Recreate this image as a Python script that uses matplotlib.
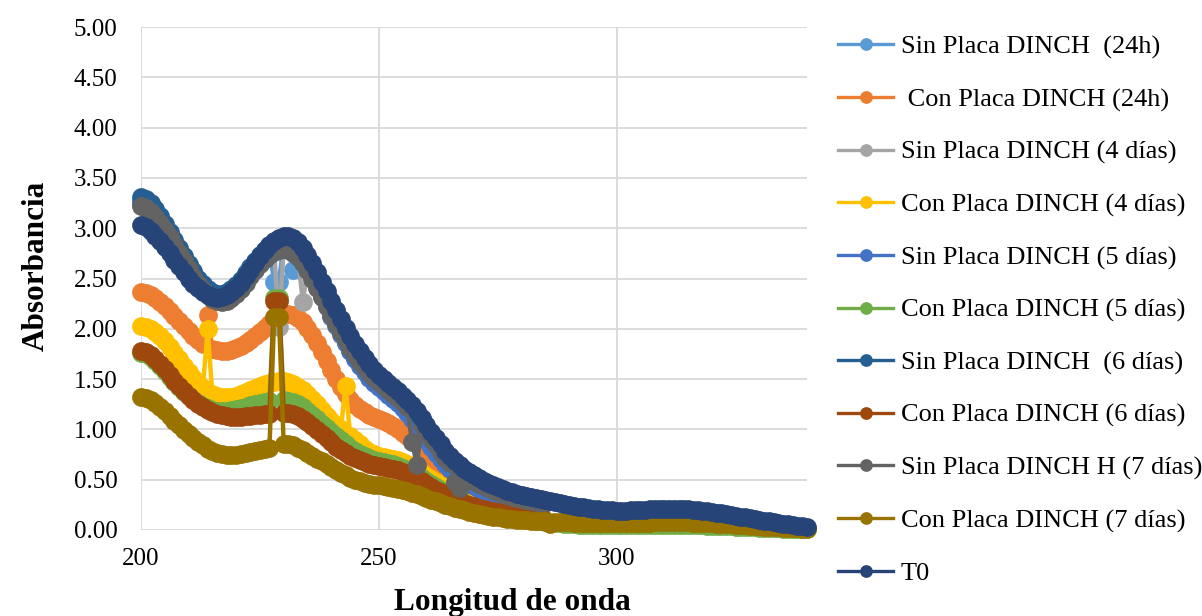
import matplotlib
matplotlib.use("Agg")
import matplotlib.pyplot as plt
import numpy as np

plt.rcParams['font.family'] = ['Liberation Serif', 'DejaVu Serif']

# Wavelength grid (nm)
wl_full = np.arange(200, 341)   # 200..340
wl_short = np.arange(200, 285)  # 200..284

sin_24h = [3.27, 3.25, 3.21, 3.15, 3.08, 3.00, 2.92, 2.84, 2.76, 2.68,
           2.60, 2.53, 2.47, 2.41, 2.37, 2.34, 2.32, 2.32, 2.33, 2.36,
           2.40, 2.45, 2.51, 2.57, 2.63, 2.69, 2.74, 2.78, 2.47, 2.47,
           2.84, 2.83, 2.58, 2.75, 2.69, 2.61, 2.53, 2.44, 2.34, 2.24,
           2.14, 2.05, 1.96, 1.87, 1.79, 1.71, 1.64, 1.58, 1.52, 1.47,
           1.43, 1.39, 1.35, 1.31, 1.27, 1.22, 1.17, 1.11, 1.04, 0.97,
           0.90, 0.84, 0.78, 0.72, 0.67, 0.62, 0.58, 0.54, 0.51, 0.48,
           0.45, 0.42, 0.40, 0.38, 0.36, 0.34, 0.33, 0.31, 0.30, 0.29,
           0.28, 0.27, 0.26, 0.25, 0.24]

con_24h = [2.37, 2.36, 2.34, 2.31, 2.27, 2.23, 2.18, 2.13, 2.08, 2.03,
           1.98, 1.93, 1.89, 1.85, 2.14, 1.80, 1.79, 1.78, 1.78, 1.79,
           1.81, 1.83, 1.86, 1.89, 1.93, 1.97, 2.01, 2.05, 2.09, 2.12,
           2.14, 2.15, 2.14, 2.11, 2.07, 2.01, 1.94, 1.86, 1.77, 1.68,
           1.59, 1.50, 1.42, 1.35, 1.29, 1.24, 1.20, 1.17, 1.14, 1.12,
           1.10, 1.08, 1.06, 1.03, 1.00, 0.96, 0.93, 0.89, 0.85, 0.81,
           0.77, 0.72, 0.67, 0.62, 0.58, 0.54, 0.50, 0.46, 0.42, 0.39,
           0.36, 0.33, 0.31, 0.29, 0.27, 0.25, 0.24, 0.22, 0.21, 0.20,
           0.19, 0.18, 0.17, 0.17, 0.16]

sin_4d = [3.24, 3.22, 3.19, 3.14, 3.08, 3.01, 2.93, 2.85, 2.77, 2.69,
          2.61, 2.54, 2.47, 2.41, 2.36, 2.32, 2.30, 2.29, 2.30, 2.33,
          2.37, 2.42, 2.48, 2.54, 2.60, 2.66, 2.71, 2.75, 2.78, 2.02,
          2.81, 2.80, 2.77, 2.72, 2.27, 2.59, 2.51, 2.42, 2.32, 2.22,
          2.12, 2.03, 1.94, 1.86, 1.78, 1.71, 1.64, 1.58, 1.53, 1.48,
          1.44, 1.40, 1.36, 1.32, 1.28, 1.24, 1.19, 1.13, 1.06, 0.99,
          0.92, 0.86, 0.80, 0.74, 0.69, 0.64, 0.59, 0.55, 0.52, 0.49,
          0.46, 0.43, 0.41, 0.39, 0.37, 0.35, 0.33, 0.32, 0.31, 0.29,
          0.28, 0.27, 0.26, 0.25, 0.24]

con_4d = [2.03, 2.02, 2.00, 1.97, 1.93, 1.88, 1.82, 1.76, 1.70, 1.63,
          1.57, 1.51, 1.46, 1.41, 2.00, 1.35, 1.33, 1.32, 1.32, 1.32,
          1.33, 1.35, 1.37, 1.39, 1.41, 1.43, 1.45, 1.46, 1.47, 1.48,
          1.48, 1.47, 1.45, 1.42, 1.39, 1.35, 1.30, 1.25, 1.19, 1.13,
          1.08, 1.04, 1.00, 1.43, 0.93, 0.89, 0.85, 0.81, 0.78, 0.76,
          0.74, 0.73, 0.72, 0.71, 0.70, 0.68, 0.66, 0.63, 0.60, 0.57,
          0.54, 0.51, 0.48, 0.45, 0.42, 0.40, 0.37, 0.35, 0.33, 0.31,
          0.29, 0.27, 0.26, 0.24, 0.23, 0.22, 0.21, 0.20, 0.19, 0.18,
          0.17, 0.17, 0.16, 0.15, 0.15]

sin_5d = [3.25, 3.23, 3.19, 3.13, 3.06, 2.99, 2.91, 2.83, 2.75, 2.67,
          2.59, 2.52, 2.46, 2.40, 2.36, 2.33, 2.31, 2.31, 2.32, 2.35,
          2.39, 2.44, 2.50, 2.56, 2.62, 2.68, 2.73, 2.77, 2.80, 2.82,
          2.83, 2.82, 2.79, 2.74, 2.68, 2.60, 2.52, 2.43, 2.33, 2.23,
          2.13, 2.04, 1.95, 1.86, 1.78, 1.70, 1.63, 1.57, 1.51, 1.46,
          1.42, 1.38, 1.34, 1.30, 1.26, 1.21, 1.16, 1.10, 1.03, 0.96,
          0.89, 0.83, 0.77, 0.71, 0.66, 0.61, 0.57, 0.53, 0.50, 0.47,
          0.44, 0.41, 0.39, 0.37, 0.35, 0.33, 0.32, 0.30, 0.29, 0.28,
          0.27, 0.26, 0.25, 0.24, 0.23]

con_5d = [1.76, 1.75, 1.72, 1.68, 1.63, 1.58, 1.52, 1.47, 1.42, 1.37,
          1.33, 1.29, 1.26, 1.23, 1.21, 1.19, 1.18, 1.18, 1.18, 1.19,
          1.20, 1.21, 1.22, 1.24, 1.25, 1.26, 1.27, 1.28, 2.31, 2.31,
          1.29, 1.28, 1.27, 1.25, 1.22, 1.18, 1.14, 1.10, 1.05, 1.01,
          0.97, 0.93, 0.89, 0.85, 0.82, 0.79, 0.76, 0.74, 0.72, 0.70,
          0.69, 0.68, 0.67, 0.66, 0.64, 0.62, 0.60, 0.58, 0.55, 0.52,
          0.49, 0.46, 0.43, 0.40, 0.37, 0.34, 0.32, 0.29, 0.27, 0.25,
          0.23, 0.21, 0.20, 0.18, 0.17, 0.16, 0.15, 0.14, 0.13, 0.12,
          0.11, 0.10, 0.10, 0.09, 0.09, 0.08, 0.08, 0.07, 0.07, 0.06,
          0.06, 0.06, 0.05, 0.05, 0.05, 0.05, 0.05, 0.05, 0.05, 0.05,
          0.05, 0.05, 0.05, 0.05, 0.05, 0.05, 0.05, 0.05, 0.05, 0.05,
          0.05, 0.05, 0.05, 0.05, 0.05, 0.05, 0.05, 0.05, 0.05, 0.04,
          0.04, 0.04, 0.04, 0.04, 0.04, 0.03, 0.03, 0.03, 0.03, 0.03,
          0.02, 0.02, 0.02, 0.02, 0.02, 0.01, 0.01, 0.01, 0.01, 0.01,
          0.01]

sin_6d = [3.31, 3.29, 3.25, 3.19, 3.12, 3.04, 2.96, 2.88, 2.80, 2.72,
          2.64, 2.57, 2.50, 2.45, 2.40, 2.37, 2.35, 2.35, 2.37, 2.40,
          2.44, 2.49, 2.55, 2.61, 2.67, 2.73, 2.78, 2.82, 2.86, 2.88,
          2.89, 2.89, 2.87, 2.83, 2.77, 2.70, 2.62, 2.53, 2.44, 2.34,
          2.25, 2.16, 2.07, 1.98, 1.90, 1.82, 1.75, 1.68, 1.62, 1.57,
          1.52, 1.48, 1.44, 1.40, 1.36, 1.31, 1.27, 1.21, 1.15, 1.08,
          1.01, 0.94, 0.88, 0.82, 0.76, 0.71, 0.66, 0.62, 0.58, 0.55,
          0.52, 0.49, 0.46, 0.44, 0.42, 0.40, 0.38, 0.37, 0.35, 0.34,
          0.33, 0.32, 0.31, 0.30, 0.29]

con_6d = [1.78, 1.77, 1.74, 1.70, 1.65, 1.60, 1.54, 1.48, 1.43, 1.38,
          1.33, 1.29, 1.25, 1.22, 1.19, 1.17, 1.15, 1.14, 1.13, 1.12,
          1.12, 1.12, 1.13, 1.13, 1.14, 1.14, 1.15, 1.15, 2.28, 2.28,
          1.16, 1.16, 1.15, 1.13, 1.10, 1.07, 1.03, 0.99, 0.95, 0.91,
          0.87, 0.83, 0.80, 0.77, 0.74, 0.72, 0.70, 0.68, 0.66, 0.65,
          0.64, 0.63, 0.62, 0.61, 0.60, 0.58, 0.56, 0.54, 0.52, 0.49,
          0.46, 0.43, 0.40, 0.38, 0.35, 0.33, 0.31, 0.29, 0.27, 0.25,
          0.24, 0.22, 0.21, 0.20, 0.19, 0.18, 0.17, 0.16, 0.16, 0.15,
          0.15, 0.14, 0.14, 0.13, 0.13]

sin_7d = [3.22, 3.20, 3.16, 3.11, 3.05, 2.98, 2.91, 2.83, 2.75, 2.67,
          2.59, 2.51, 2.45, 2.39, 2.34, 2.30, 2.28, 2.27, 2.28, 2.31,
          2.35, 2.40, 2.46, 2.52, 2.58, 2.64, 2.69, 2.73, 2.76, 2.78,
          2.79, 2.78, 2.75, 2.71, 2.65, 2.58, 2.50, 2.41, 2.32, 2.23,
          2.14, 2.05, 1.97, 1.89, 1.81, 1.74, 1.67, 1.61, 1.56, 1.51,
          1.47, 1.43, 1.39, 1.35, 1.31, 1.27, 1.22, 0.87, 0.65, 1.04,
          0.97, 0.90, 0.84, 0.78, 0.72, 0.67, 0.48, 0.42, 0.55, 0.52,
          0.49, 0.46, 0.44, 0.42, 0.40, 0.38, 0.36, 0.35, 0.33, 0.32,
          0.31, 0.30, 0.29, 0.28, 0.27]

con_7d = [1.32, 1.31, 1.29, 1.26, 1.22, 1.18, 1.13, 1.08, 1.04, 0.99,
          0.95, 0.91, 0.87, 0.84, 0.81, 0.79, 0.77, 0.76, 0.75, 0.75,
          0.75, 0.76, 0.77, 0.78, 0.79, 0.80, 0.81, 0.82, 2.12, 2.12,
          0.85, 0.85, 0.84, 0.82, 0.80, 0.77, 0.74, 0.71, 0.69, 0.66,
          0.63, 0.60, 0.57, 0.55, 0.52, 0.50, 0.49, 0.47, 0.46, 0.45,
          0.45, 0.44, 0.43, 0.42, 0.41, 0.40, 0.39, 0.37, 0.36, 0.34,
          0.32, 0.30, 0.29, 0.27, 0.25, 0.24, 0.22, 0.21, 0.20, 0.18,
          0.17, 0.16, 0.15, 0.14, 0.13, 0.13, 0.12, 0.11, 0.11, 0.10,
          0.10, 0.10, 0.09, 0.09, 0.09, 0.09, 0.06, 0.08, 0.08, 0.08,
          0.08, 0.07, 0.07, 0.07, 0.07, 0.07, 0.07, 0.07, 0.07, 0.07,
          0.07, 0.07, 0.07, 0.07, 0.07, 0.07, 0.07, 0.07, 0.08, 0.08,
          0.08, 0.08, 0.08, 0.08, 0.08, 0.08, 0.07, 0.07, 0.07, 0.07,
          0.07, 0.06, 0.06, 0.06, 0.06, 0.05, 0.05, 0.05, 0.04, 0.04,
          0.04, 0.03, 0.03, 0.03, 0.03, 0.02, 0.02, 0.02, 0.02, 0.01,
          0.01]

t0 = [3.03, 3.01, 2.97, 2.92, 2.87, 2.81, 2.75, 2.68, 2.62, 2.56,
      2.50, 2.45, 2.41, 2.37, 2.34, 2.32, 2.31, 2.32, 2.34, 2.37,
      2.41, 2.46, 2.52, 2.58, 2.65, 2.72, 2.78, 2.83, 2.87, 2.90,
      2.92, 2.92, 2.90, 2.86, 2.80, 2.73, 2.65, 2.56, 2.47, 2.38,
      2.28, 2.19, 2.10, 2.01, 1.93, 1.85, 1.78, 1.71, 1.65, 1.59,
      1.54, 1.50, 1.46, 1.42, 1.38, 1.33, 1.29, 1.24, 1.18, 1.11,
      1.04, 0.97, 0.91, 0.85, 0.79, 0.74, 0.69, 0.65, 0.61, 0.58,
      0.55, 0.52, 0.49, 0.47, 0.45, 0.43, 0.41, 0.39, 0.38, 0.36,
      0.35, 0.34, 0.33, 0.32, 0.31, 0.30, 0.29, 0.28, 0.27, 0.26,
      0.25, 0.24, 0.23, 0.23, 0.22, 0.21, 0.21, 0.20, 0.20, 0.20,
      0.19, 0.19, 0.19, 0.20, 0.20, 0.20, 0.20, 0.21, 0.21, 0.21,
      0.21, 0.21, 0.21, 0.21, 0.21, 0.21, 0.20, 0.20, 0.19, 0.19,
      0.18, 0.17, 0.17, 0.16, 0.15, 0.14, 0.13, 0.13, 0.12, 0.11,
      0.10, 0.09, 0.09, 0.08, 0.07, 0.06, 0.06, 0.05, 0.04, 0.04,
      0.03]

series = [
    ("Sin Placa DINCH  (24h)", wl_short, sin_24h, "#5B9BD5"),
    (" Con Placa DINCH (24h)", wl_short, con_24h, "#ED7D31"),
    ("Sin Placa DINCH (4 días)", wl_short, sin_4d, "#A5A5A5"),
    ("Con Placa DINCH (4 días)", wl_short, con_4d, "#FFC000"),
    ("Sin Placa DINCH (5 días)", wl_short, sin_5d, "#4472C4"),
    ("Con Placa DINCH (5 días)", wl_full, con_5d, "#70AD47"),
    ("Sin Placa DINCH  (6 días)", wl_short, sin_6d, "#255E91"),
    ("Con Placa DINCH (6 días)", wl_short, con_6d, "#9E480E"),
    ("Sin Placa DINCH H (7 días)", wl_short, sin_7d, "#636363"),
    ("Con Placa DINCH (7 días)", wl_full, con_7d, "#997300"),
    ("T0", wl_full, t0, "#264478"),
]

y_ticks = [0.0, 0.5, 1.0, 1.5, 2.0, 2.5, 3.0, 3.5, 4.0, 4.5, 5.0]
x_ticks = [200, 250, 300]

fig = plt.figure(figsize=(12.02, 6.16), dpi=100)
ax = fig.add_axes([141 / 1202, 86 / 616, 666 / 1202, 503 / 616])

for i, (label, x, y, color) in enumerate(series):
    ax.plot(x, y, '-o', color=color, lw=3.2, ms=13.5, markeredgewidth=0,
            label=label, clip_on=False, zorder=3 + i)

ax.set_xlim(200, 340)
ax.set_ylim(0, 5)
ax.set_xticks(x_ticks)
ax.set_yticks(y_ticks)
ax.set_yticklabels([f"{v:.2f}" for v in y_ticks])
ax.grid(True, color="#D9D9D9", lw=1.3, zorder=0)
ax.set_axisbelow(True)
for s in ax.spines.values():
    s.set_visible(False)
ax.tick_params(axis='y', length=0, pad=17, labelsize=18)
ax.tick_params(axis='x', length=0, pad=13, labelsize=18)

ax.set_ylabel("Absorbancia", fontsize=22.5, fontweight='bold')
ax.yaxis.set_label_coords(-0.135, 0.525)
ax.set_xlabel("Longitud de onda", fontsize=22.5, fontweight='bold')
ax.xaxis.set_label_coords(0.557, -0.115)

leg = ax.legend(loc='upper left', bbox_to_anchor=(838 / 1202, 1 - 35 / 616),
                bbox_transform=fig.transFigure, frameon=False, fontsize=19,
                handlelength=2.1, handletextpad=0.28, labelspacing=1.09,
                borderpad=0, borderaxespad=0, numpoints=1, markerscale=0.68)
for h in leg.get_lines():
    h.set_linewidth(2.4)

fig.savefig("out.png", dpi=100)
